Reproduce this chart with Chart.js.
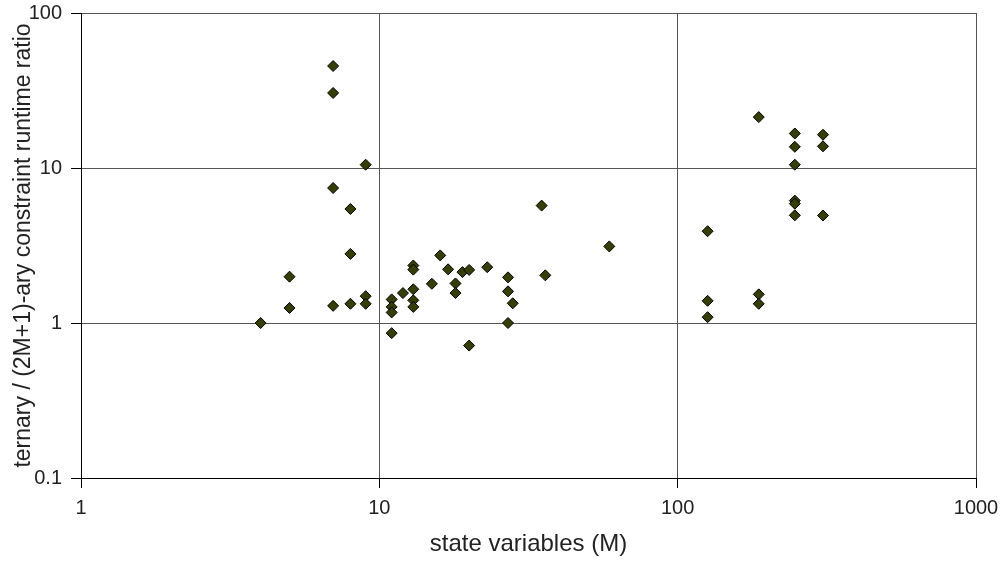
<!DOCTYPE html>
<html>
<head>
<meta charset="utf-8">
<script src="https://cdn.jsdelivr.net/npm/chart.js@4"></script>
<style>
  html, body { margin: 0; padding: 0; background: #fff; }
  #wrap { width: 1003px; height: 563px; }
</style>
</head>
<body>
<div id="wrap"><canvas id="myChart" width="1003" height="563"></canvas></div>
<script>
// state variables (M)
const stateVars = [
  7, 7, 9, 7, 8, 8, 5, 5, 4, 7, 8, 9, 9,
  11, 11, 11, 11, 12, 13, 13, 13, 13, 13, 15, 16, 17, 18, 18, 19, 20, 20, 23,
  27, 27, 28, 27, 35, 36, 59,
  187, 247, 247, 247, 247, 247, 247, 307, 307, 307, 126, 126, 126, 187, 187
];
// ternary / (2M+1)-ary runtime ratio
const runtimeRatio = [
  45.5, 30.5, 10.5, 7.43, 5.44, 2.79, 1.99, 1.25, 1.0, 1.29, 1.33, 1.49, 1.33,
  1.42, 1.27, 1.17, 0.86, 1.56, 2.35, 2.21, 1.65, 1.40, 1.27, 1.79, 2.73, 2.22, 1.80, 1.56, 2.13, 2.20, 0.715, 2.29,
  1.97, 1.60, 1.34, 1.0, 5.72, 2.03, 3.12,
  21.3, 16.7, 13.7, 10.5, 6.16, 5.89, 4.95, 16.4, 13.8, 4.94, 3.91, 1.39, 1.09, 1.53, 1.33
];
const xTicks = [1, 10, 100, 1000];
const yTicks = [0.1, 1, 10, 100];

const xTitle = 'state variables (M)';
const yTitle = 'ternary / (2M+1)-ary constraint runtime ratio';

document.addEventListener('DOMContentLoaded', () => {
  const ctx = document.getElementById('myChart').getContext('2d');
  const points = stateVars.map((m, i) => ({ x: m, y: runtimeRatio[i] }));

  new Chart(ctx, {
    type: 'scatter',
    data: {
      datasets: [{
        data: points,
        pointStyle: 'rectRot',
        pointRadius: 5.5,
        pointHoverRadius: 5.5,
        backgroundColor: '#343f05',
        borderColor: '#000',
        borderWidth: 1
      }]
    },
    options: {
      responsive: false,
      animation: false,
      layout: { padding: { top: 13, right: 27, left: 0, bottom: 0 } },
      plugins: { legend: { display: false }, tooltip: { enabled: false } },
      scales: {
        x: {
          type: 'logarithmic',
          min: 1, max: 1000,
          afterBuildTicks: s => { s.ticks = xTicks.map(v => ({ value: v })); },
          afterFit: s => { s.height = 85; s.paddingLeft = 0; s.paddingRight = 0; },
          grid: { color: '#555', tickColor: '#000', tickLength: 10, lineWidth: 1 },
          border: { color: '#000' },
          ticks: {
            color: '#222', padding: 8,
            font: { family: 'Liberation Sans', size: 20 },
            callback: v => String(v),
            maxRotation: 0
          },
          title: {
            display: true, text: xTitle, color: '#222',
            font: { family: 'Liberation Sans', size: 24 },
            padding: { top: 0, bottom: 4 }
          }
        },
        y: {
          type: 'logarithmic',
          min: 0.1, max: 100,
          afterBuildTicks: s => { s.ticks = yTicks.map(v => ({ value: v })); },
          afterFit: s => { s.width = 81; s.paddingTop = 0; s.paddingBottom = 0; },
          grid: { color: '#555', tickColor: '#000', tickLength: 10, lineWidth: 1 },
          border: { color: '#000' },
          ticks: {
            color: '#222', padding: 9,
            font: { family: 'Liberation Sans', size: 20 },
            callback: v => String(v)
          },
          title: {
            display: true, text: yTitle, color: '#222',
            font: { family: 'Liberation Sans', size: 23 },
            padding: { top: 10, bottom: 0 }
          }
        }
      }
    }
  });
});
</script>
</body>
</html>
